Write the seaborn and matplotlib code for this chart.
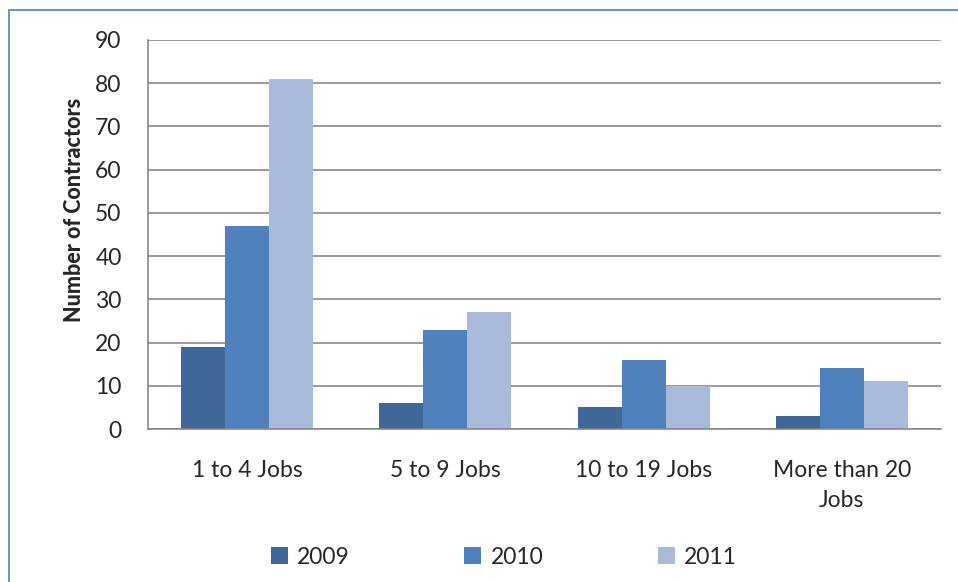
import matplotlib
matplotlib.use("Agg")
import matplotlib.pyplot as plt
import seaborn as sns
import pandas as pd
from matplotlib.patches import Rectangle, Patch

categories = ["1 to 4 Jobs", "5 to 9 Jobs", "10 to 19 Jobs", "More than 20\nJobs"]
years = ["2009", "2010", "2011"]
v2009 = [19, 6, 5, 3]
v2010 = [47, 23, 16, 14]
v2011 = [81, 27, 10, 11]
colors = ["#3F6899", "#4F81BD", "#AABADA"]

rows = []
for y, vals in zip(years, [v2009, v2010, v2011]):
    for c, v in zip(categories, vals):
        rows.append({"cat": c, "year": y, "val": v})
df = pd.DataFrame(rows)

sns.set_style("white")
plt.rcParams['font.family'] = ['Lato', 'DejaVu Sans']

fig = plt.figure(figsize=(9.58, 5.82), dpi=100)
ax = fig.add_axes([148/958, 1-429/582, (941-148)/958, (429-40)/582])

sns.barplot(data=df, x="cat", y="val", hue="year", palette=colors,
            width=0.667, ax=ax, saturation=1, legend=False, errorbar=None,
            linewidth=0)

ax.set_ylim(0, 90)
ax.set_xlim(-0.5, 3.5)
ax.set_yticks(range(0, 91, 10))
ax.yaxis.grid(True, color="#878787", linewidth=1.2)
ax.set_axisbelow(True)
for s in ["top", "right"]:
    ax.spines[s].set_visible(False)
for s in ["left", "bottom"]:
    ax.spines[s].set_color("#878787")
    ax.spines[s].set_linewidth(1.2)

ax.set_xticks([-0.5, 0.5, 1.5, 2.5, 3.5])
ax.set_xticklabels([])
ax.set_xticks(range(4), minor=True)
ax.set_xticklabels(categories, minor=True, fontsize=16.5, linespacing=1.55)
ax.tick_params(axis="x", which="major", length=7, width=1.2, color="#878787", direction="out")
ax.tick_params(axis="x", which="minor", length=0, pad=22)
ax.tick_params(axis="y", length=7, width=1.2, color="#878787", direction="out", labelsize=16.5, pad=12)
ax.set_xlabel("")
ax.set_ylabel("Number of Contractors", fontsize=15.5, fontweight="black", labelpad=4)
ax.yaxis.set_label_coords(-0.079, 0.563)

handles = [Patch(facecolor=c, edgecolor="none", label=y) for c, y in zip(colors, years)]
fig.legend(handles=handles, loc="center", bbox_to_anchor=(0.526, 1-557/582), ncol=3,
           frameon=False, fontsize=16.5, handlelength=0.75, handleheight=0.75,
           handletextpad=0.4, columnspacing=5.0)

fig.patches.append(Rectangle((9/958, -0.1), 1.2, 1-10/582+0.1, transform=fig.transFigure,
                             fill=False, edgecolor="#4F81BD", linewidth=1.2))

fig.savefig("out.png", dpi=100)
